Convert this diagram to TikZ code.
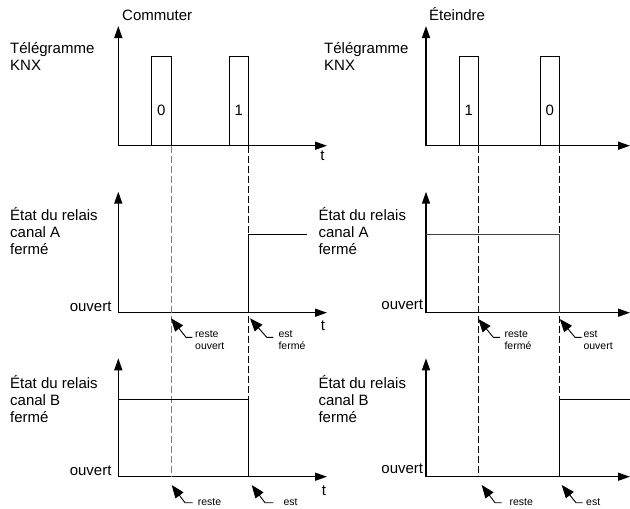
\documentclass[tikz,border=0pt]{standalone}
\usepackage{fontspec}
\setmainfont{Liberation Sans}
\usetikzlibrary{arrows.meta}
\begin{document}
\begin{tikzpicture}[x=1pt,y=-1pt,
  axis/.style={line width=1.5pt,{Triangle[length=12pt,width=8pt]}-{Triangle[length=12pt,width=8pt]}},
  sig/.style={line width=0.9pt,line join=miter},
  guide/.style={line width=0.9pt,dash pattern=on 7pt off 3pt},
  lbl/.style={font=\fontsize{15}{16.8}\selectfont,inner sep=0pt,align=left},
  small/.style={font=\fontsize{10.5}{11.7}\selectfont,inner sep=0pt,align=left},
  pointer/.style={line width=0.9pt,-{Triangle[length=13pt,width=10pt]}}]
\useasboundingbox (0,0) rectangle (630,509);

% ---------- titles and axis labels (base = baseline of last line) ----------
\node[lbl,anchor=base west] (tL) at (122,20.7) {Commuter};
\node[lbl,anchor=base west] (tR) at (429,20.7) {Éteindre};
\node[lbl,anchor=base west] (kL) at (10,70.1) {Télégramme\\KNX};
\node[lbl,anchor=base west] (kR) at (324,70.1) {Télégramme\\KNX};
\node[lbl,anchor=base west] (aL) at (10,254.3) {État du relais\\canal A\\fermé};
\node[lbl,anchor=base west] (aR) at (318.3,254.3) {État du relais\\canal A\\fermé};
\node[lbl,anchor=base west] (bL) at (10,422.1) {État du relais\\canal B\\fermé};
\node[lbl,anchor=base west] (bR) at (318.3,422.1) {État du relais\\canal B\\fermé};
\node[lbl,anchor=base east] (oaL) at (111.7,311) {ouvert};
\node[lbl,anchor=base east] (oaR) at (423.3,309.5) {ouvert};
\node[lbl,anchor=base east] (obL) at (111.7,475) {ouvert};
\node[lbl,anchor=base east] (obR) at (423.3,473.5) {ouvert};
\node[lbl,anchor=base] (t1) at (322.5,160) {t};
\node[lbl,anchor=base] (t2) at (323,330.7) {t};
\node[lbl,anchor=base] (t3) at (324,495) {t};

% ---------- axes ----------
\coordinate (yL1) at (118.3,26);    \coordinate (oL1) at (118.3,145.7); \coordinate (xL1) at (327,145.7);
\coordinate (yL2) at (118.3,191.7); \coordinate (oL2) at (118.3,312.7); \coordinate (xL2) at (327,312.7);
\coordinate (yL3) at (118.3,358.3); \coordinate (oL3) at (118.3,476.7); \coordinate (xL3) at (327,476.7);
\coordinate (yR1) at (426,26);      \coordinate (oR1) at (426,145.7);   \coordinate (xR1) at (630,145.7);
\coordinate (yR2) at (426,191.7);   \coordinate (oR2) at (426,312.7);   \coordinate (xR2) at (630,312.7);
\coordinate (yR3) at (426,358.3);   \coordinate (oR3) at (426,476.7);   \coordinate (xR3) at (630,476.7);
\foreach \p in {L1,L2,L3,R1,R2,R3}{
  \draw[axis] (y\p) -- (o\p) -- (x\p);
}

% ---------- dashed guides ----------
\draw[guide,gray] (171,145.7) coordinate (gL1a) -- (171,476.7) coordinate (gL1b);
\draw[guide] (248.3,145.7) coordinate (gL2a) -- (248.3,476.7) coordinate (gL2b);
\draw[guide] (478.3,145.7) coordinate (gR1a) -- (478.3,476.7) coordinate (gR1b);
\draw[guide] (559.3,145.7) coordinate (gR2a) -- (559.3,476.7) coordinate (gR2b);

% ---------- telegram pulses ----------
\draw[sig] (151.7,145.7) -- (151.7,56.7) -- (171,56.7) -- (171,145.7);
\draw[sig] (229.3,145.7) -- (229.3,56.7) -- (248.3,56.7) -- (248.3,145.7);
\draw[sig] (459,145.7) -- (459,56.7) -- (478.3,56.7) -- (478.3,145.7);
\draw[sig] (540,145.7) -- (540,56.7) -- (559.3,56.7) -- (559.3,145.7);
\node[lbl,anchor=base] (p1) at (161.3,115) {0};
\node[lbl,anchor=base] (p2) at (238.8,115) {1};
\node[lbl,anchor=base] (p3) at (468.7,115) {1};
\node[lbl,anchor=base] (p4) at (549.7,115) {0};

% ---------- relay states ----------
\draw[sig] (248.3,312.7) -- (248.3,234) -- (306.7,234);
\draw[sig,black!75] (426,234) -- (559.3,234) -- (559.3,312.7);
\draw[sig] (118.3,399.3) -- (248.3,399.3) -- (248.3,476.7);
\draw[sig] (559.3,476.7) -- (559.3,399.3) -- (630,399.3);

% ---------- pointers and small labels ----------
\draw[pointer] (192.3,337.3) coordinate (e1) -- (186,337.3) coordinate (k1) -- (171,318.3) coordinate (a1);
\draw[pointer] (273.3,337.3) coordinate (e2) -- (266.7,337.3) coordinate (k2) -- (250,318.3) coordinate (a2);
\draw[pointer] (500,337.3) coordinate (e3) -- (493.3,337.3) coordinate (k3) -- (478.3,319) coordinate (a3);
\draw[pointer] (581.7,337.3) coordinate (e4) -- (575,337.3) coordinate (k4) -- (559.8,319) coordinate (a4);
\draw[pointer] (192.7,502.7) coordinate (e5) -- (185,502.7) coordinate (k5) -- (171.7,485) coordinate (a5);
\draw[pointer] (273.3,502.7) coordinate (e6) -- (265,502.7) coordinate (k6) -- (251.7,485) coordinate (a6);
\draw[pointer] (501.7,502.7) coordinate (e7) -- (495,502.7) coordinate (k7) -- (481.7,485) coordinate (a7);
\draw[pointer] (582.7,502.7) coordinate (e8) -- (576,502.7) coordinate (k8) -- (561.7,485) coordinate (a8);

\node[small,anchor=base west] (s1) at (195,349) {reste\\ouvert};
\node[small,anchor=base west] (s2) at (278.3,349) {est\\fermé};
\node[small,anchor=base west] (s3) at (504.3,349) {reste\\fermé};
\node[small,anchor=base west] (s4) at (583.3,349) {est\\ouvert};
\node[small,anchor=base west] (s5) at (197.7,505) {reste};
\node[small,anchor=base west] (s6) at (283.3,505) {est};
\node[small,anchor=base west] (s7) at (509.3,505) {reste};
\node[small,anchor=base west] (s8) at (586,505) {est};
\end{tikzpicture}
\end{document}
